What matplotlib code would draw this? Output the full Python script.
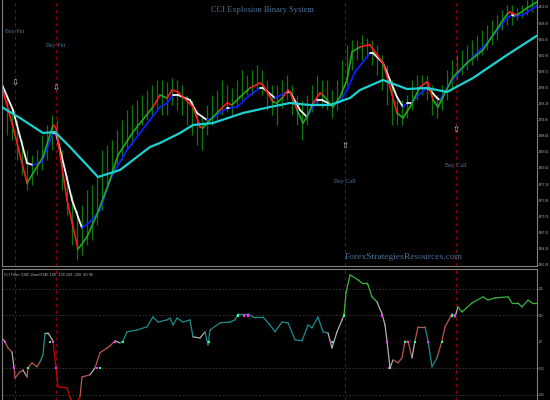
import numpy as np
import matplotlib
matplotlib.use("Agg")
import matplotlib.pyplot as plt
from matplotlib.collections import LineCollection

# --- price bars (high / low), one bar every 5 px of the screenshot ---
bar_high = [1902.0, 1895.0, 1892.0, 1890.0, 1886.0, 1884.0, 1883.0, 1884.0, 1887.0, 1889.0,
            1891.0, 1890.0, 1884.0, 1879.0, 1875.0, 1872.0, 1873.0, 1876.0, 1877.0, 1879.0,
            1884.0, 1885.0, 1886.0, 1888.0, 1890.0, 1892.0, 1893.0, 1894.0, 1895.0, 1896.0,
            1897.0, 1898.0, 1898.0, 1897.6, 1898.4, 1898.0, 1897.0, 1895.0, 1894.0, 1892.0,
            1891.0, 1893.0, 1895.0, 1896.0, 1898.0, 1897.0, 1896.4, 1898.0, 1900.0, 1899.0,
            1900.0, 1901.0, 1900.0, 1898.0, 1897.0, 1897.0, 1898.0, 1899.0, 1897.0, 1895.0,
            1894.0, 1895.0, 1897.0, 1899.0, 1898.0, 1898.0, 1896.0, 1898.0, 1902.0, 1905.0,
            1906.0, 1906.0, 1907.0, 1906.4, 1906.0, 1905.0, 1903.0, 1901.0, 1898.0, 1894.0,
            1894.0, 1895.0, 1898.0, 1899.0, 1899.0, 1899.0, 1897.0, 1895.0, 1897.0, 1900.0,
            1902.0, 1903.0, 1904.0, 1905.0, 1906.0, 1907.0, 1908.0, 1909.0, 1910.0, 1911.0,
            1912.0, 1913.0, 1913.0, 1912.4, 1913.0, 1914.0, 1914.4, 1914.6]
bar_low = [1893.0, 1887.0, 1886.0, 1882.0, 1879.0, 1876.0, 1877.0, 1879.0, 1880.0, 1882.0,
           1884.0, 1885.0, 1876.0, 1871.0, 1865.0, 1862.0, 1863.0, 1865.0, 1866.0, 1869.0,
           1872.0, 1877.0, 1879.0, 1881.0, 1882.0, 1884.0, 1885.0, 1887.0, 1889.0, 1890.0,
           1891.0, 1892.0, 1891.0, 1891.0, 1893.0, 1892.0, 1891.0, 1889.0, 1887.0, 1885.0,
           1884.0, 1887.0, 1889.0, 1890.0, 1891.0, 1891.6, 1891.0, 1892.4, 1894.0, 1895.0,
           1895.0, 1896.0, 1895.0, 1892.0, 1891.0, 1889.0, 1892.4, 1894.0, 1891.0, 1889.0,
           1886.0, 1889.0, 1891.6, 1893.0, 1892.4, 1892.0, 1890.4, 1892.0, 1894.0, 1897.0,
           1900.0, 1902.0, 1902.0, 1902.4, 1901.0, 1899.0, 1896.0, 1893.0, 1889.0, 1889.0,
           1889.0, 1890.4, 1892.0, 1894.0, 1895.0, 1894.0, 1891.0, 1890.4, 1892.0, 1894.0,
           1896.0, 1898.0, 1899.0, 1900.0, 1901.0, 1902.0, 1903.0, 1904.0, 1905.0, 1906.0,
           1908.0, 1909.0, 1909.0, 1910.0, 1910.4, 1911.0, 1911.6, 1912.4]

# --- fast MA (red falling / green rising) ---
fast_x = [0, 13, 27, 43, 53, 56, 67, 78, 87, 98, 110, 118, 133, 153, 160, 167, 172, 178,
          193, 200, 203, 210, 220, 227, 232, 240, 250, 260, 263, 273, 277, 283, 288, 290,
          297, 303, 307, 313, 320, 323, 333, 340, 347, 352, 360, 368, 370, 383, 390, 397,
          403, 410, 420, 427, 428, 433, 438, 443, 453, 467, 483, 503, 508, 510, 517, 527, 537]
fast_y = [1898.0, 1888.6, 1877.4, 1882.6, 1889.0, 1888.4, 1874.0, 1864.2, 1866.6, 1871.6,
          1878.0, 1883.0, 1887.6, 1892.6, 1895.0, 1894.4, 1896.0, 1895.6, 1892.6, 1888.6,
          1888.4, 1890.0, 1892.0, 1893.4, 1893.0, 1894.6, 1896.4, 1897.4, 1897.0, 1893.6,
          1893.4, 1894.6, 1896.0, 1895.6, 1892.0, 1889.4, 1890.6, 1893.4, 1895.4, 1895.0,
          1892.6, 1894.6, 1898.0, 1903.6, 1904.6, 1905.0, 1905.0, 1901.4, 1896.6, 1891.4,
          1890.4, 1892.6, 1896.6, 1897.6, 1897.4, 1894.0, 1892.6, 1894.6, 1898.6, 1901.4,
          1904.0, 1910.0, 1911.4, 1911.6, 1911.0, 1912.4, 1913.6]
fast_dir = "rrrggrrrggggggrgrrrrrggrrggrrrggrrrgggrrgggggrrrrrgggrrrgggggggrrgg"

# --- slow MA (white falling / blue rising) ---
slow_x = [0, 13, 27, 33, 42, 53, 56, 65, 72, 82, 90, 100, 110, 117, 127, 140, 160, 167, 173,
          178, 190, 197, 207, 213, 227, 230, 237, 250, 260, 263, 275, 287, 290, 300, 307, 317,
          322, 332, 340, 348, 355, 370, 373, 383, 390, 397, 403, 407, 412, 418, 427, 430, 437,
          440, 450, 467, 487, 507, 512, 515, 523, 538]
slow_y = [1898.0, 1892.0, 1881.4, 1881.0, 1881.6, 1887.4, 1887.4, 1880.0, 1874.0, 1868.4,
          1869.6, 1872.0, 1878.0, 1880.6, 1884.0, 1887.4, 1892.6, 1893.4, 1895.0, 1895.0,
          1894.0, 1891.4, 1890.0, 1890.4, 1892.4, 1892.4, 1892.6, 1895.0, 1896.4, 1896.4,
          1894.4, 1895.6, 1895.6, 1892.0, 1890.6, 1894.0, 1894.0, 1893.0, 1893.6, 1896.4,
          1899.6, 1903.4, 1903.4, 1901.4, 1898.0, 1894.6, 1892.6, 1893.4, 1893.4, 1895.0,
          1896.4, 1896.0, 1894.4, 1894.0, 1897.4, 1901.4, 1905.4, 1910.4, 1911.0, 1910.8,
          1911.0, 1913.0]
slow_dir = "wwwwbbwwwwbbbbbbbbbwwwwbbwbbbwwbwwwbwwbbbbwwwwwbwbbwwwbbbbbwbb"

# --- long MA (cyan) ---
long_x = [0, 20, 43, 55, 70, 85, 98, 120, 150, 160, 180, 193, 213, 243, 270, 290, 310, 330,
          350, 360, 383, 407, 427, 447, 473, 507, 538]
long_y = [1892.8, 1890.4, 1887.4, 1887.6, 1884.6, 1881.4, 1878.6, 1880.0, 1884.6, 1885.4,
          1887.4, 1889.0, 1889.4, 1891.4, 1892.6, 1893.4, 1893.0, 1893.0, 1894.4, 1896.0,
          1898.0, 1896.2, 1896.4, 1895.6, 1898.4, 1903.0, 1907.0]

# --- signals ---
signal_x = [15, 56, 345, 456]
signal_kind = ["put", "put", "call", "call"]
signal_arrow = [1897.4, 1896.4, 1885.0, 1888.0]
signal_label = [1907.8, 1904.8, 1877.6, 1880.8]

# --- CCI filter window ---
cci_x = [0, 2, 5, 8, 12, 14, 15, 20, 23, 27, 28, 32, 37, 40, 43, 45, 48, 53, 56, 58, 67, 70,
         75, 80, 82, 90, 95, 100, 107, 110, 115, 120, 123, 127, 137, 147, 153, 158, 167, 170,
         173, 177, 183, 190, 193, 200, 205, 208, 210, 220, 230, 235, 238, 248, 253, 263, 270,
         275, 282, 288, 295, 302, 308, 312, 318, 323, 328, 332, 337, 342, 344, 346, 350, 358,
         362, 367, 368, 372, 377, 382, 385, 387, 390, 393, 398, 402, 405, 408, 412, 415, 418,
         425, 428, 432, 437, 442, 445, 452, 455, 458, 462, 472, 483, 488, 495, 508, 512, 518,
         522, 528, 532, 537]
cci_y = [19, 15, 0, -23, -38, -98, -136, -113, -106, -132, -98, -79, -94, -75, -49, 34, 34,
         4, -98, -170, -173, -211, -235, -207, -132, -124, -98, -41, -23, -15, 4, -4, 4, 38,
         45, 57, 94, 75, 83, 90, 64, 90, 75, 83, 19, 15, 38, -11, 45, 72, 75, 83, 106, 106,
         94, 94, 64, 38, 75, 72, 8, 4, 64, 53, 94, 38, 34, -23, 38, 83, 102, 185, 253, 234,
         222, 222, 215, 170, 151, 106, 64, 4, -98, -68, -79, -60, 4, 4, -60, 4, 57, 57, 4,
         -94, -60, 4, 57, 106, 94, 132, 113, 147, 170, 158, 166, 170, 147, 147, 132, 158,
         147, 147]
cci_col = ("ttwsswssswssssttwwrrrrrrsswssssw" "tttttttttttttwwttttttttttttttttttttwwwwg"
           "gggggggwwwwwssssswsstttssstwgggggggggggggg")
cross_x = [1, 5, 14, 28, 50, 53, 56, 97, 100, 115, 123, 208, 209, 238, 244, 248, 331, 333,
           344, 382, 387, 389, 390, 405, 408, 415, 428, 442, 452, 455]
cross_y = [102, 0, -98, -98, 0, 0, -98, -98, -98, 0, 0, 0, 0, 100, 100, 100, 0, 0, 100, 100,
           0, -98, -98, 0, 0, 0, 0, 0, 100, 100]
cross_kind = "mmmggmmmgmgmggmmmggmmmggmgmggm"

cci_levels = [200, 100, -100, -200]
cci_ticks = [200, 100, 0, -100, -200]
cci_tick_labels = ["200", "100", "0.0", "-100", "-200"]
price_ticks = np.round(np.arange(1912.6, 1860.0, -3.22), 2)

bg = "black"
frame = "#808080"
text_blue = "#4d7198"
signal_red = "#8b0000"

fast_pal = {"r": "#ff1a1a", "g": "#22a822"}
slow_pal = {"w": "#f2f2f2", "b": "#0a1eff"}
cci_pal = {"t": "#1f8c8c", "w": "#b0b0b0", "s": "#b8574a", "r": "#d00000", "g": "#3cb43c"}
dot_pal = {"m": "#ff30ff", "g": "#30ff80"}


def colored_line(ax, xs, ys, codes, palette, lw):
    pts = np.column_stack([xs, ys])
    segs = np.stack([pts[:-1], pts[1:]], axis=1)
    cols = [palette[c] for c in codes[1:]]
    ax.add_collection(LineCollection(segs, colors=cols, linewidths=lw,
                                     capstyle="round", joinstyle="round"))


def style_axis(ax):
    ax.set_facecolor(bg)
    for side in ax.spines:
        ax.spines[side].set_color(frame)
        ax.spines[side].set_linewidth(0.8)
    ax.yaxis.tick_right()
    ax.tick_params(axis="y", colors="#bbbbbb", labelsize=1.8, length=0.8, width=0.4, pad=0.2)
    ax.set_xticks([])
    ax.set_xlim(2, 537)


fig = plt.figure(figsize=(5.5, 4.0), dpi=100, facecolor=bg)
ax1 = fig.add_axes([2 / 550, 134 / 400, 535 / 550, 266 / 400])
ax2 = fig.add_axes([2 / 550, 0, 535 / 550, 131 / 400])
style_axis(ax1)
style_axis(ax2)
ax1.spines["top"].set_visible(False)
ax2.spines["bottom"].set_visible(False)

# price window
bar_x = 2 + 5 * np.arange(len(bar_high))
ax1.vlines(bar_x, bar_low, bar_high, color="#0a780a", linewidth=0.9, zorder=2)
ax1.plot(long_x, long_y, color="#1fd0d0", linewidth=1.6, solid_capstyle="round", zorder=3)
colored_line(ax1, slow_x, slow_y, slow_dir, slow_pal, 1.3)
colored_line(ax1, fast_x, fast_y, fast_dir, fast_pal, 1.2)
ax1.set_ylim(1860.8, 1914.0)
ax1.set_yticks(price_ticks)
ax1.set_yticklabels([f"{v:.2f}" for v in price_ticks])

for ax in (ax1, ax2):
    for sx in signal_x:
        ax.axvline(sx, color=signal_red, linewidth=0.8, linestyle=(0, (3, 3)), zorder=1)

for sx, kind, ya, yl in zip(signal_x, signal_kind, signal_arrow, signal_label):
    glyph = "\u21e9" if kind == "put" else "\u21e7"
    ax1.text(sx, ya, glyph, color="#d8d8d8", fontsize=6, ha="center", va="center",
             family="DejaVu Sans", zorder=5)
    ax1.text(sx, yl, "Buy Put" if kind == "put" else "Buy Call", color=text_blue,
             fontsize=4.3, ha="center", va="center", family="Liberation Serif", zorder=5)

ax1.text(0.487, 0.962, "CCI Explosion Binary System", transform=ax1.transAxes,
         color=text_blue, fontsize=6, ha="center", va="center", family="Liberation Serif")
ax1.text(0.75, 0.035, "ForexStrategiesResources.com", transform=ax1.transAxes,
         color=text_blue, fontsize=6.8, ha="center", va="center", family="Liberation Serif")

# CCI window
for lvl in cci_levels:
    ax2.axhline(lvl, color="#3a3a3a", linewidth=0.6, linestyle=(0, (2, 2)), zorder=1)
colored_line(ax2, cci_x, cci_y, cci_col, cci_pal, 0.9)
ax2.scatter(cross_x, cross_y, c=[dot_pal[k] for k in cross_kind], s=4, marker="s",
            linewidths=0, zorder=4)
ax2.set_ylim(-219, 275)
ax2.set_yticks(cci_ticks)
ax2.set_yticklabels(cci_tick_labels)
ax2.text(0.004, 0.955, "CCI Filter (100) Zone(FSB) 100 -100 200 -200  60.96",
         transform=ax2.transAxes, color="#bbbbbb", fontsize=2.4, ha="left", va="center")

fig.savefig("out.png", dpi=100, facecolor=bg)
